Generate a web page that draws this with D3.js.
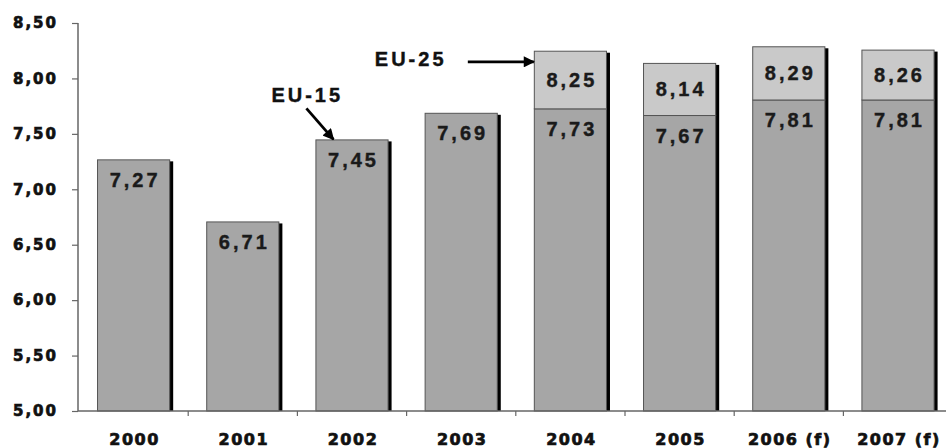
<!DOCTYPE html>
<html><head><meta charset="utf-8">
<script src="https://cdn.jsdelivr.net/npm/d3@7"></script>
<style>html,body{margin:0;padding:0;background:#fff;overflow:hidden}</style>
</head><body>
<script>
const categories = ["2000","2001","2002","2003","2004","2005","2006 (f)","2007 (f)"];
const eu15 = [7.27, 6.71, 7.45, 7.69, 7.73, 7.67, 7.81, 7.81];
const eu25 = [null, null, null, null, 8.25, 8.14, 8.29, 8.26];
const yTicks = [5.0, 5.5, 6.0, 6.5, 7.0, 7.5, 8.0, 8.5];
const annotations = [
  {label: "EU-15", category: "2002", series: "EU-15"},
  {label: "EU-25", category: "2004", series: "EU-25"}
];

const W = 946, H = 448;
const fmt = v => d3.format(".2f")(v).replace(".", ",");
const svg = d3.select("body").append("svg").attr("width", W).attr("height", H);

const y = d3.scaleLinear().domain([5, 8.5]).range([411, 23]);
const x = d3.scaleBand().domain(categories).range([79, 952.6]).paddingInner(0.33).paddingOuter(0.165);
const bw = x.bandwidth();

const data = categories.map((c, i) => ({c, a: eu15[i], b: eu25[i]}));

const g = svg.append("g");
data.forEach(d => {
  const top = d.b != null ? d.b : d.a;
  g.append("rect").attr("x", x(d.c) + bw - 1).attr("y", y(top) + 2)
    .attr("width", 4).attr("height", y(5) - y(top) - 2).attr("fill", "#000");
});
g.selectAll("rect.low").data(data).join("rect").attr("class", "low")
  .attr("x", d => x(d.c) + 0.5).attr("y", d => y(d.a) + 0.5)
  .attr("width", bw - 1).attr("height", d => y(5) - y(d.a) - 0.5)
  .attr("fill", "#a6a6a6").attr("stroke", "#555").attr("stroke-width", 1);
g.selectAll("rect.up").data(data.filter(d => d.b != null)).join("rect").attr("class", "up")
  .attr("x", d => x(d.c) + 0.5).attr("y", d => y(d.b) + 0.5)
  .attr("width", bw - 1).attr("height", d => y(d.a) - y(d.b))
  .attr("fill", "#c9c9c9").attr("stroke", "#555").attr("stroke-width", 1);

const lblStyle = sel => sel.attr("text-anchor", "middle").attr("font-family", "Liberation Sans, Arial, sans-serif")
  .attr("font-weight", "bold").attr("font-size", 20).attr("letter-spacing", 3)
  .attr("fill", "#1a1a1a").attr("stroke", "#1a1a1a").attr("stroke-width", 0.4);
g.selectAll("text.lowlbl").data(data).join("text").attr("class", "lowlbl")
  .attr("x", d => x(d.c) + bw / 2 + 1.5).attr("y", d => y(d.a) + 27.5)
  .text(d => fmt(d.a)).call(lblStyle);
g.selectAll("text.uplbl").data(data.filter(d => d.b != null)).join("text").attr("class", "uplbl")
  .attr("x", d => x(d.c) + bw / 2 + 1.5).attr("y", d => (y(d.b) + y(d.a)) / 2 + 7)
  .text(d => fmt(d.b)).call(lblStyle);

const ya = svg.append("g").attr("transform", "translate(78,0)")
  .call(d3.axisLeft(y).tickValues(yTicks).tickSize(6).tickPadding(16).tickFormat(fmt));
ya.select(".domain").attr("stroke", "#666").attr("stroke-width", 1.5).attr("d", `M0,${y(8.5)}V${y(5)}`);
ya.selectAll(".tick line").attr("stroke", "#666").attr("stroke-width", 1.2);
ya.selectAll(".tick text").attr("font-family", "DejaVu Sans, sans-serif").attr("font-weight", "bold")
  .attr("font-size", 15).attr("letter-spacing", 2).attr("fill", "#111")
  .attr("stroke", "#111").attr("stroke-width", 0.7).attr("dx", 2);

const xa = svg.append("g").attr("transform", `translate(0,${y(5)})`);
xa.append("line").attr("x1", 78).attr("x2", W).attr("stroke", "#666").attr("stroke-width", 1.5);
const step = x.step();
categories.slice(0, -1).forEach(c => {
  const bx = x(c) + bw + (step - bw) / 2;
  xa.append("line").attr("x1", bx).attr("x2", bx).attr("y1", 0).attr("y2", 5).attr("stroke", "#666").attr("stroke-width", 1.2);
});
xa.selectAll("text").data(categories).join("text")
  .attr("x", d => x(d) + bw / 2 + 1).attr("y", 34).attr("text-anchor", "middle")
  .attr("font-family", "DejaVu Sans, sans-serif").attr("font-weight", "bold").attr("font-size", 16)
  .attr("letter-spacing", 1.5).attr("fill", "#111").attr("stroke", "#111").attr("stroke-width", 0.7)
  .text(d => d);

svg.append("defs").append("marker").attr("id", "ah").attr("viewBox", "0 0 10 10")
  .attr("refX", 9).attr("refY", 5).attr("markerWidth", 4.5).attr("markerHeight", 4)
  .attr("orient", "auto").attr("markerUnits", "strokeWidth")
  .append("path").attr("d", "M0,0L10,5L0,10z").attr("fill", "#000");
const annStyle = sel => sel.attr("font-family", "Liberation Sans, Arial, sans-serif").attr("font-weight", "bold")
  .attr("font-size", 20).attr("letter-spacing", 3).attr("fill", "#111")
  .attr("stroke", "#111").attr("stroke-width", 0.4);

const a15 = annotations[0];
const t15x = x(a15.category) + 18, t15y = y(eu15[categories.indexOf(a15.category)]);
svg.append("text").attr("x", t15x - 62).attr("y", t15y - 37).text(a15.label).call(annStyle);
svg.append("line").attr("x1", t15x - 27).attr("y1", t15y - 31).attr("x2", t15x).attr("y2", t15y)
  .attr("stroke", "#000").attr("stroke-width", 2.8).attr("marker-end", "url(#ah)");

const a25 = annotations[1];
const t25x = x(a25.category), t25y = y(8.15);
svg.append("text").attr("x", t25x - 159).attr("y", t25y + 4).text(a25.label).call(annStyle);
svg.append("line").attr("x1", t25x - 66).attr("y1", t25y).attr("x2", t25x).attr("y2", t25y)
  .attr("stroke", "#000").attr("stroke-width", 2.8).attr("marker-end", "url(#ah)");
</script>
</body></html>
